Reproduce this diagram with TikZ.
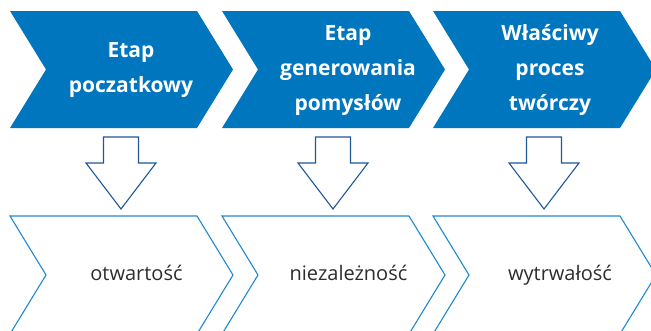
\documentclass[tikz,border=0pt]{standalone}
\usepackage{fontspec}
\setmainfont{Open Sans}
\definecolor{stageblue}{RGB}{0,118,190}
\definecolor{traitline}{RGB}{30,136,208}
\definecolor{arrowline}{RGB}{28,88,152}
\definecolor{traittext}{RGB}{45,45,45}
\begin{document}
\begin{tikzpicture}[x=1pt,y=-1pt,
  stagebox/.style={fill=stageblue, draw=none},
  traitbox/.style={draw=traitline, line width=1.1pt, fill=none, line join=miter},
  downarrow/.style={draw=arrowline, line width=1.1pt, fill=white, line join=miter},
  stagelabel/.style={text=white, font=\bfseries\fontsize{21}{35}\selectfont,
    align=center, inner sep=0pt},
  traitlabel/.style={text=traittext, font=\fontsize{20}{24}\selectfont,
    anchor=base, inner sep=0pt}]
\useasboundingbox (0,0) rectangle (651,330);
\clip (0,0) rectangle (651,330);

% stage chevrons (filled) and trait chevrons (outlined)
\foreach \L in {10,222,433}{
  \path[stagebox] (\L,11) -- (\L+187,11) -- (\L+223,69.5) -- (\L+187,128)
    -- (\L,128) -- (\L+36,69.5) -- cycle;
  \path[traitbox] (\L,216) -- (\L+187,216) -- (\L+223,275) -- (\L+187,334)
    -- (\L,334) -- (\L+36,275) -- cycle;
}

% block arrows from each stage down to its trait
\foreach \c in {121,333,544}{
  \path[downarrow] (\c-17.5,137) -- (\c+17.5,137) -- (\c+17.5,163)
    -- (\c+35,163) -- (\c,209) -- (\c-35,163) -- (\c-17.5,163) -- cycle;
}

% stage titles
\node[stagelabel] (s1) at (131,67.5) {Etap\strut\\poczatkowy\strut};
\node[stagelabel] (s2) at (348,68) {Etap\strut\\generowania\strut\\pomysłów\strut};
\node[stagelabel] (s3) at (550,68) {Właściwy\strut\\proces\strut\\twórczy\strut};

% traits
\node[traitlabel] (t1) at (136.5,280) {otwartość};
\node[traitlabel] (t2) at (348.5,280) {niezależność};
\node[traitlabel] (t3) at (560,280) {wytrwałość};
\end{tikzpicture}
\end{document}
